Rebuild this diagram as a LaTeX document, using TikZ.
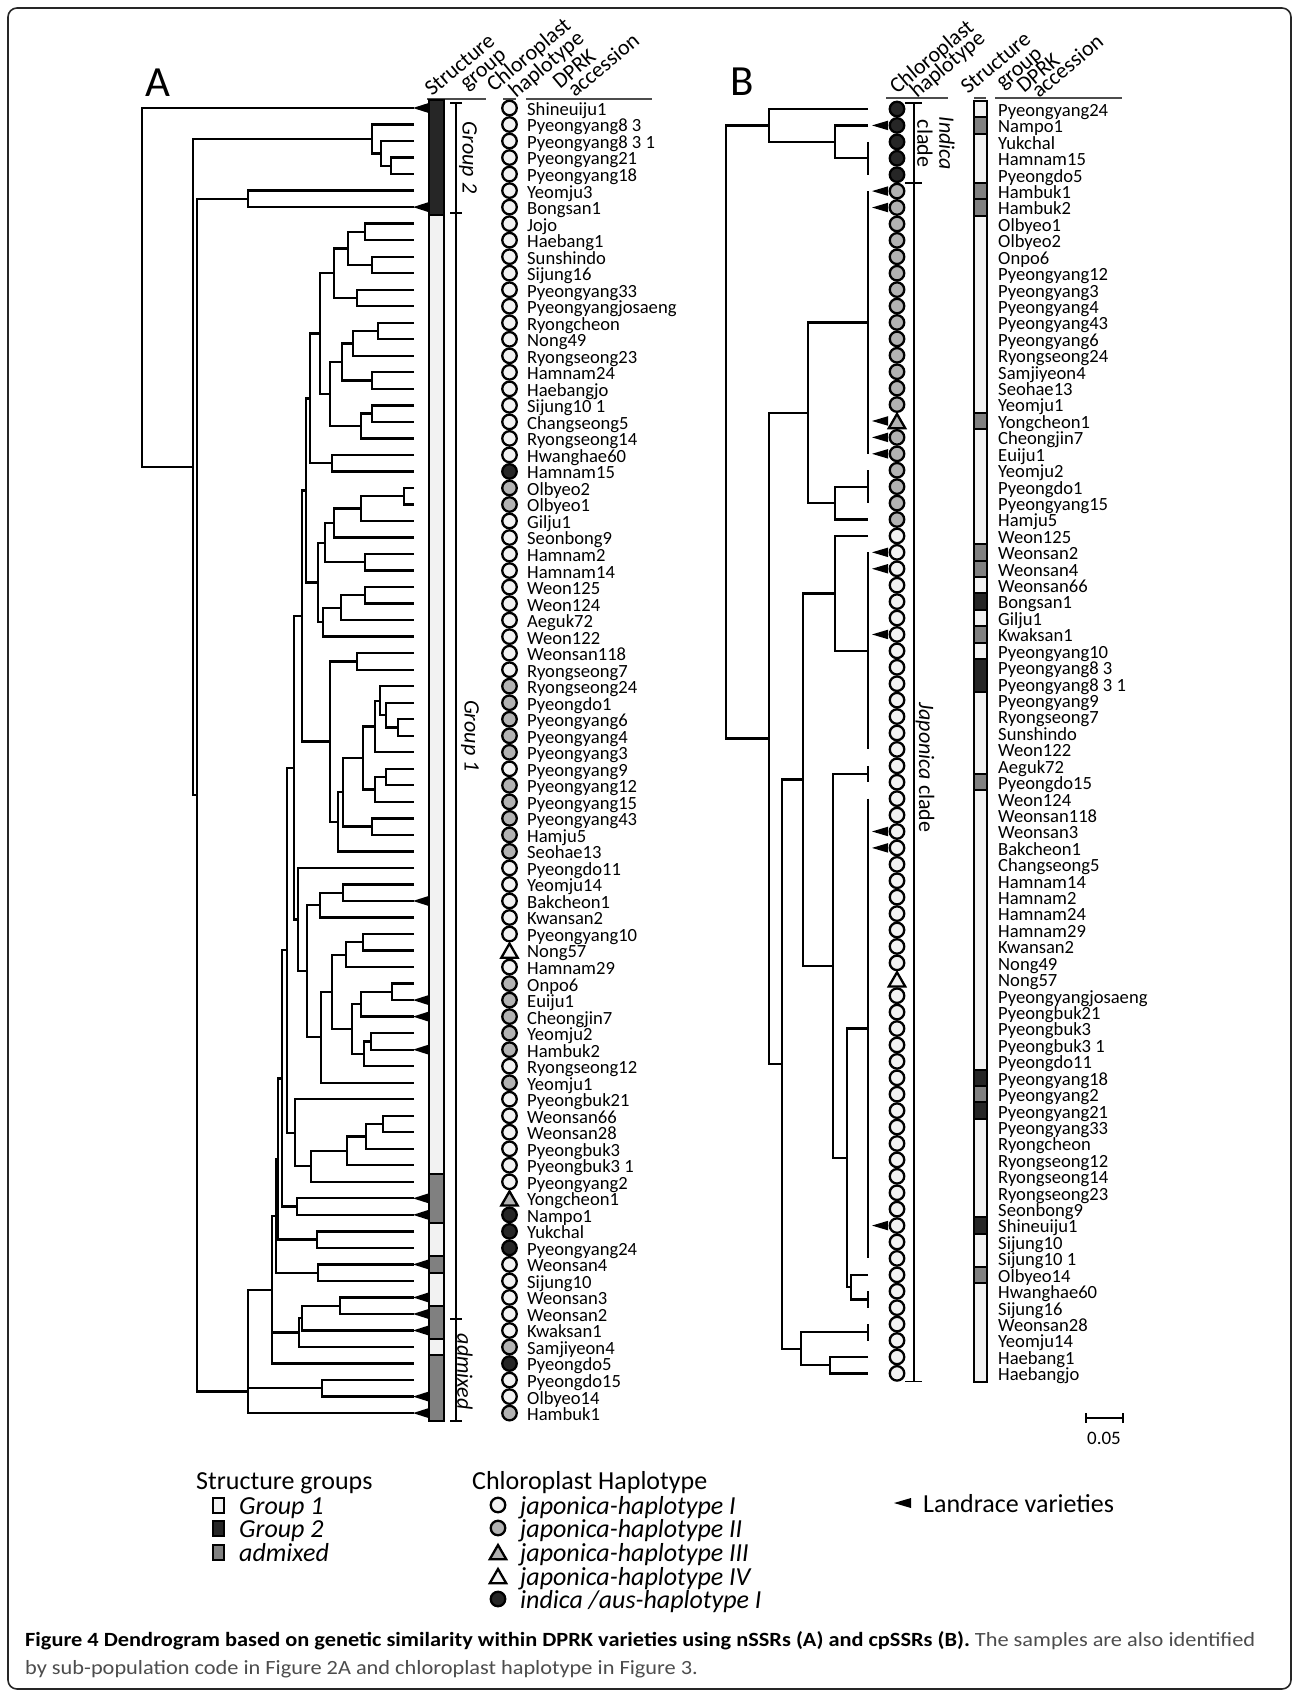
\documentclass[tikz,border=0pt]{standalone}
\usepackage{fontspec}
\setmainfont{Carlito}
\usepackage{graphicx}
\usetikzlibrary{shapes.geometric}
\colorlet{slt}{black!5}
\colorlet{sgr}{black!50}
\colorlet{sdk}{black!85}
\newcommand\tnd[5]{\draw[tbr] (#3,#2) -- (#1,#2) -- (#1,#4) -- (#5,#4);}
\newcommand\tlf[3]{\draw[tbr] (#1,#2) -- (#3,#2);}
\begin{document}
\begin{tikzpicture}[x=1pt,y=-1pt,
  tbr/.style={line width=2.3pt},
  tnm/.style={anchor=base west,inner sep=0pt,text height=11pt,text depth=3pt,font=\fontsize{18.6}{20}\selectfont},
  hdr/.style={rotate=40,anchor=base west,inner sep=0pt,font=\fontsize{22}{24}\selectfont},
  hpw/.style={circle,draw,line width=2.3pt,fill=slt,minimum size=14.5pt,inner sep=0pt},
  hpg/.style={hpw,fill=black!30},
  hpd/.style={hpw,fill=sdk},
  hpt/.style={regular polygon,regular polygon sides=3,draw,line width=2.3pt,fill=black!30,minimum size=19pt,inner sep=0pt,yshift=-2.5pt},
  hpu/.style={hpt,fill=slt},
  sbar/.style={line width=2pt},
  ulin/.style={line width=1.6pt,black!70},
  brk/.style={line width=1.8pt},
  grp/.style={rotate=-90,inner sep=0pt,font=\fontsize{22}{22}\selectfont},
  lgt/.style={anchor=base west,inner sep=0pt,font=\fontsize{26}{28}\selectfont},
  capt/.style={anchor=base west,inner sep=0pt,font=\fontsize{20.2}{22}\selectfont}
]
\useasboundingbox (0,0) rectangle (1295,1694);
\draw[line width=1.6pt,black!85,rounded corners=9pt] (8,8) rectangle (1291,1689);

% ================= PANEL A =================
\node[inner sep=0pt,font=\fontsize{43}{43}\selectfont] (labA) at (158,83) {A};
\node[hdr] (hA1) at (432,97) {Structure};
\node[hdr] (hA2) at (467,91) {group};
\node[hdr] (hA3) at (494,93) {Chloroplast};
\node[hdr] (hA4) at (516,99) {haplotype};
\node[hdr] (hA5) at (560,90) {DPRK};
\node[hdr] (hA6) at (575,98) {accession};
\draw[ulin] (427,99) -- (486,99);
\draw[ulin] (503,99) -- (516,99);
\draw[ulin] (526,99) -- (652,99);

\begin{scope}[y=-16.52pt,yshift=-91.48pt]
% tree
\tnd{391}{4}{414}{5}{414}
\tnd{381}{3}{414}{4.5}{391}
\tnd{372}{2}{414}{3.75}{381}
\tnd{248}{6}{414}{7}{414}
\tnd{365}{8}{414}{9}{414}
\tnd{372}{10}{414}{11}{414}
\tnd{348}{8.5}{365}{10.5}{372}
\tnd{357}{12}{414}{13}{414}
\tnd{334}{9.5}{348}{12.5}{357}
\tnd{378}{14}{414}{15}{414}
\tnd{353}{14.5}{378}{16}{414}
\tnd{372}{17}{414}{18}{414}
\tnd{342}{15.25}{353}{17.5}{372}
\tnd{372}{19}{414}{20}{414}
\tnd{361}{19.5}{372}{21}{414}
\tnd{330}{16.375}{342}{20.25}{361}
\tnd{320}{11}{334}{18.3125}{330}
\tnd{332}{22}{414}{23}{414}
\tnd{310}{14.656}{320}{22.5}{332}
\tnd{404}{24}{414}{25}{414}
\tnd{361}{24.5}{404}{26}{414}
\tnd{334}{25.25}{361}{27}{414}
\tnd{365}{28}{414}{29}{414}
\tnd{325}{26.125}{334}{28.5}{365}
\tnd{365}{30}{414}{31}{414}
\tnd{341}{30.5}{365}{32}{414}
\tnd{323}{31.25}{341}{33}{414}
\tnd{318}{27.3125}{325}{32.125}{323}
\tnd{306}{18.578}{310}{29.72}{318}
\tnd{357}{34}{414}{35}{414}
\tnd{398}{38}{414}{39}{414}
\tnd{386}{37}{414}{38.5}{398}
\tnd{380}{36}{414}{37.75}{386}
\tnd{375}{36.875}{380}{40}{414}
\tnd{386}{41}{414}{42}{414}
\tnd{375}{41.5}{386}{43}{414}
\tnd{363}{38.4375}{375}{42.25}{375}
\tnd{372}{44}{414}{45}{414}
\tnd{343}{40.34}{363}{44.5}{372}
\tnd{338}{42.42}{343}{46}{414}
\tnd{330}{34.5}{357}{44.21}{338}
\tnd{302}{24.149}{306}{39.355}{330}
\tnd{343}{48}{414}{49}{414}
\tnd{320}{48.5}{343}{50}{414}
\tnd{363}{51}{414}{52}{414}
\tnd{346}{51.5}{363}{53}{414}
\tnd{392}{54}{414}{55}{414}
\tnd{361}{54.5}{392}{56}{414}
\tnd{371}{57}{414}{58}{414}
\tnd{364}{57.5}{371}{59}{414}
\tnd{352}{55.25}{361}{58.25}{364}
\tnd{332}{52.25}{346}{56.75}{352}
\tnd{321}{54.5}{332}{60}{414}
\tnd{307}{49.25}{320}{57.25}{321}
\tnd{298}{47}{414}{53.25}{307}
\tnd{294}{31.75}{302}{50.125}{298}
\tnd{383}{62}{414}{63}{414}
\tnd{366}{62.5}{383}{64}{414}
\tnd{347}{63.25}{366}{65}{414}
\tnd{311}{64.125}{347}{66}{414}
\tnd{295}{61}{414}{65.06}{311}
\tnd{287}{40.94}{294}{63.03}{295}
\tnd{297}{67}{414}{68}{414}
\tnd{282}{51.98}{287}{67.5}{297}
\tnd{317}{69}{414}{70}{414}
\tnd{278}{59.74}{282}{69.5}{317}
\tnd{318}{71}{414}{72}{414}
\tnd{276}{64.62}{278}{71.5}{318}
\tnd{340}{73}{414}{74}{414}
\tnd{302}{73.5}{340}{75}{414}
\tnd{299}{74.25}{302}{76}{414}
\tnd{272}{68.06}{276}{77}{414}
\tlf{272}{75.125}{299}
\tnd{322}{78}{414}{79}{414}
\tnd{248}{72.53}{272}{80}{414}
\tlf{248}{78.5}{322}
\tnd{197}{6.5}{248}{78.7}{248}
\tnd{193}{2.875}{372}{42.6}{197}
\tnd{142}{1}{414}{22.74}{193}
% landrace arrows
\foreach \r in {1,7,49,55,56,58,67,68,71,73,74,75,79,80}
  \fill (413,\r) -- (428,\r-0.29) -- (428,\r+0.29) -- cycle;
% structure bar
\foreach \s/\e/\c in {1/7/sdk,8/65/slt,66/68/sgr,69/70/slt,71/71/sgr,72/73/slt,74/75/sgr,76/76/slt,77/80/sgr}
  \draw[sbar,fill=\c] (429,\s-0.5) rectangle (444,\e+0.5);
% group brackets
\draw[brk] (450,0.7) -- (462,0.7);
\draw[brk] (456,0.7) -- (456,7.35);
\draw[brk] (450,7.35) -- (462,7.35);
\draw[brk] (456,7.35) -- (456,74.3);
\draw[brk] (450,74.3) -- (462,74.3);
\draw[brk] (456,74.3) -- (456,80.5);
\draw[brk] (450,80.5) -- (462,80.5);
\node[grp,font=\fontsize{22}{22}\selectfont\itshape] (gA2) at (468,4) {Group 2};
\node[grp,font=\fontsize{22}{22}\selectfont\itshape] (gA1) at (470,39) {Group 1};
\node[grp,font=\fontsize{22}{22}\selectfont\itshape] (gAa) at (465,77.5) {admixed};
% haplotypes
\foreach \h [count=\i] in {w,w,w,w,w,w,w,w,w,w,w,w,w,w,w,w,w,w,w,w,w,w,d,g,g,w,w,w,w,w,w,w,w,w,w,g,g,g,g,g,w,g,g,g,g,g,w,w,w,w,w,u,w,g,g,g,g,g,w,g,w,w,w,w,w,w,t,d,d,d,w,w,w,w,w,g,d,w,w,g}
  \node[hp\h] (ca\i) at (509.5,\i) {};
% names
\foreach \n [count=\i] in {Shineuiju1,Pyeongyang8 3,Pyeongyang8 3 1,Pyeongyang21,Pyeongyang18,Yeomju3,Bongsan1,Jojo,Haebang1,Sunshindo,Sijung16,Pyeongyang33,Pyeongyangjosaeng,Ryongcheon,Nong49,Ryongseong23,Hamnam24,Haebangjo,Sijung10 1,Changseong5,Ryongseong14,Hwanghae60,Hamnam15,Olbyeo2,Olbyeo1,Gilju1,Seonbong9,Hamnam2,Hamnam14,Weon125,Weon124,Aeguk72,Weon122,Weonsan118,Ryongseong7,Ryongseong24,Pyeongdo1,Pyeongyang6,Pyeongyang4,Pyeongyang3,Pyeongyang9,Pyeongyang12,Pyeongyang15,Pyeongyang43,Hamju5,Seohae13,Pyeongdo11,Yeomju14,Bakcheon1,Kwansan2,Pyeongyang10,Nong57,Hamnam29,Onpo6,Euiju1,Cheongjin7,Yeomju2,Hambuk2,Ryongseong12,Yeomju1,Pyeongbuk21,Weonsan66,Weonsan28,Pyeongbuk3,Pyeongbuk3 1,Pyeongyang2,Yongcheon1,Nampo1,Yukchal,Pyeongyang24,Weonsan4,Sijung10,Weonsan3,Weonsan2,Kwaksan1,Samjiyeon4,Pyeongdo5,Pyeongdo15,Olbyeo14,Hambuk1}
  \node[tnm] (na\i) at (527,\i+0.45) {\n};
\end{scope}

% ================= PANEL B =================
\node[inner sep=0pt,font=\fontsize{43}{43}\selectfont] (labB) at (742,82) {B};
\node[hdr] (hB1) at (897,95) {Chloroplast};
\node[hdr] (hB2) at (917,99) {haplotype};
\node[hdr] (hB3) at (968,95) {Structure};
\node[hdr] (hB4) at (1003,90) {group};
\node[hdr] (hB5) at (1024,94) {DPRK};
\node[hdr] (hB6) at (1039,99) {accession};
\draw[ulin] (886,98) -- (948,98);
\draw[ulin] (974,98) -- (986,98);
\draw[ulin] (995,98) -- (1122,98);

\begin{scope}[y=-16.42pt,yshift=-92.58pt]
\tnd{835}{2}{868}{4}{868}
\draw[tbr] (868,3) -- (868,5);
\tnd{769}{1}{868}{3}{835}
\draw[tbr] (868,6) -- (868,22);
\draw[tbr] (868,23) -- (868,25);
\tnd{835}{24}{868}{26}{868}
\tnd{808}{14}{868}{25}{835}
\draw[tbr] (868,28) -- (868,40);
\tnd{835}{27}{868}{34}{868}
\draw[tbr] (868,41) -- (868,42);
\draw[tbr] (868,43) -- (868,71);
\draw[tbr] (868,73) -- (868,74);
\tnd{851}{72}{868}{73.5}{868}
\tnd{847}{57}{868}{72.75}{851}
\tnd{833}{41.5}{868}{64.875}{847}
\tnd{803}{30.5}{835}{53.19}{833}
\draw[tbr] (868,75) -- (868,76);
\tnd{830}{77}{868}{78}{868}
\tnd{801}{75.5}{868}{77.5}{830}
\tnd{782}{41.84}{803}{76.5}{801}
\tnd{769}{19.5}{808}{59.17}{782}
\tnd{726}{2}{769}{39.34}{769}
% landrace arrows
\foreach \r in {2,6,7,20,21,22,28,29,33,45,46,69}
  \fill (872,\r) -- (888,\r-0.29) -- (888,\r+0.29) -- cycle;
% clade brackets
\draw[brk] (905,0.65) -- (922,0.65);
\draw[brk] (914,0.65) -- (914,5.5);
\draw[brk] (905,5.5) -- (922,5.5);
\draw[brk] (914,5.5) -- (914,78.5);
\draw[brk] (905,78.5) -- (922,78.5);
\node[grp,align=center] (gBi) at (936,3.1) {\itshape Indica\\clade};
\node[grp] (gBj) at (925,41.1) {\itshape Japonica\upshape{} clade};
% structure bar
\foreach \s/\e/\c in {1/1/slt,2/2/sgr,3/5/slt,6/6/sgr,7/7/sgr,8/19/slt,20/20/sgr,21/27/slt,28/28/sgr,29/29/sgr,30/30/slt,31/31/sdk,32/32/slt,33/33/sgr,34/34/slt,35/36/sdk,37/41/slt,42/42/sgr,43/59/slt,60/60/sdk,61/61/sgr,62/62/sdk,63/68/slt,69/69/sdk,70/71/slt,72/72/sgr,73/78/slt}
  \draw[sbar,fill=\c] (974,\s-0.5) rectangle (987,\e+0.5);
% haplotypes
\foreach \h [count=\i] in {d,d,d,d,d,g,g,g,g,g,g,g,g,g,g,g,g,g,g,t,g,g,g,g,g,g,w,w,w,w,w,w,w,w,w,w,w,w,w,w,w,w,w,w,w,w,w,w,w,w,w,w,w,u,w,w,w,w,w,w,w,w,w,w,w,w,w,w,w,w,w,w,w,w,w,w,w,w}
  \node[hp\h] (cb\i) at (897,\i) {};
% names
\foreach \n [count=\i] in {Pyeongyang24,Nampo1,Yukchal,Hamnam15,Pyeongdo5,Hambuk1,Hambuk2,Olbyeo1,Olbyeo2,Onpo6,Pyeongyang12,Pyeongyang3,Pyeongyang4,Pyeongyang43,Pyeongyang6,Ryongseong24,Samjiyeon4,Seohae13,Yeomju1,Yongcheon1,Cheongjin7,Euiju1,Yeomju2,Pyeongdo1,Pyeongyang15,Hamju5,Weon125,Weonsan2,Weonsan4,Weonsan66,Bongsan1,Gilju1,Kwaksan1,Pyeongyang10,Pyeongyang8 3,Pyeongyang8 3 1,Pyeongyang9,Ryongseong7,Sunshindo,Weon122,Aeguk72,Pyeongdo15,Weon124,Weonsan118,Weonsan3,Bakcheon1,Changseong5,Hamnam14,Hamnam2,Hamnam24,Hamnam29,Kwansan2,Nong49,Nong57,Pyeongyangjosaeng,Pyeongbuk21,Pyeongbuk3,Pyeongbuk3 1,Pyeongdo11,Pyeongyang18,Pyeongyang2,Pyeongyang21,Pyeongyang33,Ryongcheon,Ryongseong12,Ryongseong14,Ryongseong23,Seonbong9,Shineuiju1,Sijung10,Sijung10 1,Olbyeo14,Hwanghae60,Sijung16,Weonsan28,Yeomju14,Haebang1,Haebangjo}
  \node[tnm] (nb\i) at (998,\i+0.45) {\n};
\end{scope}

% scale bar
\coordinate (sb1) at (1086,1418);
\coordinate (sb2) at (1123,1418);
\draw[line width=2pt] (sb1) -- (sb2);
\draw[line width=2pt] (1086,1413) -- (1086,1423);
\draw[line width=2pt] (1123,1413) -- (1123,1423);
\node[inner sep=0pt,font=\fontsize{19}{20}\selectfont] (sbl) at (1104,1438) {0.05};

% ================= LEGEND =================
\node[lgt] (lgS) at (196,1489) {Structure groups};
\node[draw,line width=2pt,fill=slt,minimum width=11pt,minimum height=15pt,inner sep=0pt] (ls1) at (218,1505) {};
\node[draw,line width=2pt,fill=sdk,minimum width=11pt,minimum height=15pt,inner sep=0pt] (ls2) at (218,1528) {};
\node[draw,line width=2pt,fill=sgr,minimum width=11pt,minimum height=15pt,inner sep=0pt] (ls3) at (218,1552) {};
\node[lgt,font=\fontsize{26}{28}\selectfont\itshape] (lt1) at (239,1514) {Group 1};
\node[lgt,font=\fontsize{26}{28}\selectfont\itshape] (lt2) at (239,1537) {Group 2};
\node[lgt,font=\fontsize{26}{28}\selectfont\itshape] (lt3) at (239,1561) {admixed};

\node[lgt] (lgC) at (472,1489) {Chloroplast Haplotype};
\node[hpw] (lc1) at (498,1505) {};
\node[hpg] (lc2) at (498,1528) {};
\node[hpt] (lc3) at (498,1552) {};
\node[hpu] (lc4) at (498,1576) {};
\node[hpd] (lc5) at (498,1599) {};
\node[lgt,font=\fontsize{26}{28}\selectfont\itshape] (lh1) at (520,1514) {japonica-haplotype I};
\node[lgt,font=\fontsize{26}{28}\selectfont\itshape] (lh2) at (520,1537) {japonica-haplotype II};
\node[lgt,font=\fontsize{26}{28}\selectfont\itshape] (lh3) at (520,1561) {japonica-haplotype III};
\node[lgt,font=\fontsize{26}{28}\selectfont\itshape] (lh4) at (520,1585) {japonica-haplotype IV};
\node[lgt,font=\fontsize{26}{28}\selectfont\itshape] (lh5) at (520,1608) {indica /aus-haplotype I};

\coordinate (lla) at (894,1503);
\fill (lla) -- (911,1498) -- (911,1508) -- cycle;
\node[lgt] (llt) at (923,1512) {Landrace varieties};

% ================= CAPTION =================
\node[capt] (cap1) at (25,1646) {\resizebox{1230pt}{\height}{\textbf{Figure 4 Dendrogram based on genetic similarity within DPRK varieties using nSSRs (A) and cpSSRs (B).} \textcolor{black!70}{The samples are also identified}}};
\node[capt] (cap2) at (25,1674) {\scalebox{1.106}[1]{\textcolor{black!70}{by sub-population code in Figure 2A and chloroplast haplotype in Figure 3.}}};
\end{tikzpicture}
\end{document}
